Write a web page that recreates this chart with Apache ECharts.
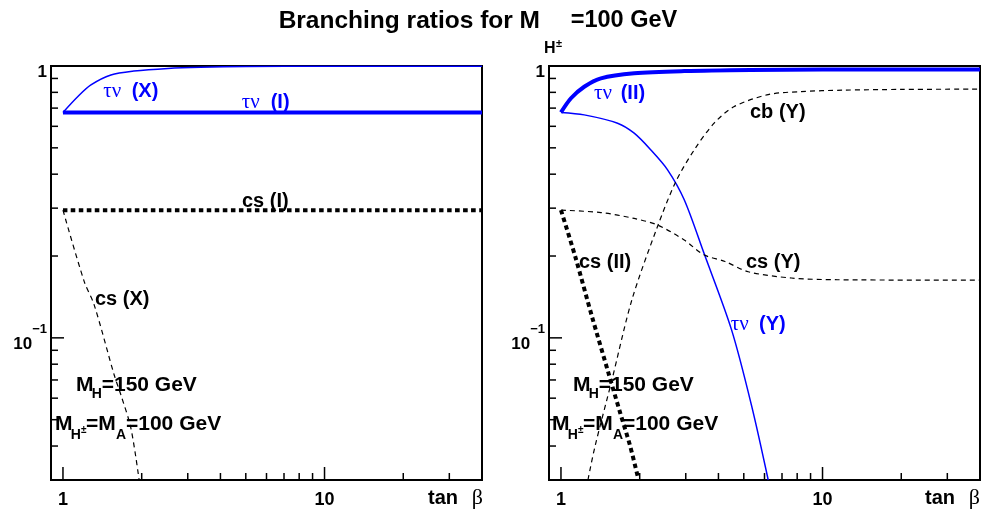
<!DOCTYPE html>
<html><head><meta charset="utf-8">
<script src="https://cdn.jsdelivr.net/npm/echarts@6/dist/echarts.min.js"></script>
<style>html,body{margin:0;padding:0;background:#fff}#c{width:992px;height:518px}</style>
</head><body><div id="c"></div>
<script>
// ---- axis ranges ----
const X_MIN = 0.9, X_MAX = 40, Y_MIN = 0.03, Y_MAX = 1;
const xTickValues = [1, 2, 3, 4, 5, 6, 7, 8, 9, 10, 20, 30];
const yTickValues = [0.03, 0.04, 0.05, 0.06, 0.07, 0.08, 0.09, 0.1, 0.2, 0.3, 0.4, 0.5, 0.6, 0.7, 0.8, 0.9];

// ---- left panel: types I and X ----
const tanbFlat = [1, 40];
const brTauI = [0.675, 0.675];
const brCsI = [0.295, 0.295];
const tanbTauX = [1, 1.138, 1.279, 1.525, 1.867, 2.52, 3.36, 5, 10, 40];
const brTauX = [0.675, 0.771, 0.852, 0.927, 0.958, 0.98, 0.99, 0.996, 0.998, 0.998];
const tanbCsX = [1, 1.206, 1.317, 1.57, 1.665, 1.818, 1.955];
const brCsX = [0.295, 0.161, 0.132, 0.073, 0.0617, 0.0466, 0.03];

// ---- right panel: types II and Y ----
const tanbTauII = [1, 1.092, 1.227, 1.421, 1.905, 2.96, 5.3, 10, 40];
const brTauII = [0.675, 0.761, 0.839, 0.901, 0.94, 0.958, 0.967, 0.97, 0.97];
const tanbTauY = [1, 1.227, 1.646, 1.905, 2.207, 2.556, 2.96, 3.52, 4.49, 5.36, 6.2];
const brTauY = [0.675, 0.661, 0.616, 0.566, 0.491, 0.415, 0.322, 0.205, 0.107, 0.0561, 0.03];
const tanbCsY = [1, 1.421, 1.905, 2.34, 2.96, 3.52, 4.24, 5.2, 7.6, 11.4, 40];
const brCsY = [0.295, 0.289, 0.275, 0.26, 0.229, 0.202, 0.191, 0.175, 0.166, 0.1636, 0.163];
const tanbCbY = [1.268, 1.348, 1.566, 1.867, 2.34, 2.75, 3.23, 3.85, 4.58, 6.2, 8.25, 12, 20, 40];
const brCbY = [0.03, 0.0397, 0.07, 0.138, 0.257, 0.376, 0.491, 0.616, 0.708, 0.785, 0.805, 0.815, 0.82, 0.822];
const tanbCsII = [1, 1.134, 1.313, 1.52, 1.684, 1.84, 1.98];
const brCsII = [0.295, 0.199, 0.12, 0.0741, 0.053, 0.0399, 0.03];

const BLUE = '#0000ff', BLACK = '#000000';
const SANS = 'Liberation Sans', SERIF = 'Liberation Serif';

function pairs(xs, ys) { return xs.map((x, i) => [x, ys[i]]); }
function lineSeries(gi, xs, ys, color, width, dash) {
  return {
    type: 'line', xAxisIndex: gi, yAxisIndex: gi, data: pairs(xs, ys),
    symbol: 'none', showSymbol: false, smooth: 0.3, silent: true, z: 3,
    lineStyle: { color: color, width: width, type: dash || 'solid', cap: 'butt', join: 'round' }
  };
}
function isDecade(v) { const l = Math.log10(v); return Math.abs(l - Math.round(l)) < 1e-6; }
function tickSeries(gi, axis) {
  const data = axis === 'x' ? xTickValues.map(v => [v, Y_MIN]) : yTickValues.map(v => [X_MIN, v]);
  return {
    type: 'custom', xAxisIndex: gi, yAxisIndex: gi, data: data, silent: true, clip: false, z: 4,
    renderItem: function (params, api) {
      const xv = api.value(0), yv = api.value(1);
      const p = api.coord([xv, yv]);
      const v = axis === 'x' ? xv : yv;
      const len = isDecade(v) ? 13 : 7;
      const shape = axis === 'x'
        ? { x1: p[0], y1: p[1], x2: p[0], y2: p[1] - len }
        : { x1: p[0], y1: p[1], x2: p[0] + len, y2: p[1] };
      return { type: 'line', shape: shape, style: { stroke: BLACK, lineWidth: 1.5 } };
    }
  };
}

const grids = [
  { left: 51, top: 66, width: 431, height: 414, show: true, borderColor: BLACK, borderWidth: 2, backgroundColor: 'transparent' },
  { left: 549, top: 66, width: 431, height: 414, show: true, borderColor: BLACK, borderWidth: 2, backgroundColor: 'transparent' }
];
const xAxes = [0, 1].map(i => ({
  type: 'log', logBase: 10, gridIndex: i, min: X_MIN, max: X_MAX,
  axisLine: { show: false }, axisTick: { show: false }, splitLine: { show: false },
  axisLabel: {
    margin: 11, color: BLACK, fontFamily: SANS, fontWeight: 'bold', fontSize: 18,
    formatter: function (v) { const l = Math.log10(v); if (Math.abs(l) < 1e-6) return '1'; if (Math.abs(l - 1) < 1e-6) return '10'; return ''; }
  }
}));
const yAxes = [0, 1].map(i => ({
  type: 'log', logBase: 10, gridIndex: i, min: Y_MIN, max: Y_MAX,
  axisLine: { show: false }, axisTick: { show: false }, splitLine: { show: false },
  axisLabel: {
    margin: 4, color: BLACK,
    formatter: function (v) { const l = Math.log10(v); if (Math.abs(l) < 1e-6) return '{a|1}'; if (Math.abs(l + 1) < 1e-6) return '{a|10}{s|\u22121}'; return ''; },
    rich: {
      a: { fontFamily: SANS, fontWeight: 'bold', fontSize: 17, color: BLACK, lineHeight: 30, verticalAlign: 'bottom' },
      s: { fontFamily: SANS, fontWeight: 'bold', fontSize: 13, color: BLACK, lineHeight: 22, verticalAlign: 'top' }
    }
  }
}));

const series = [
  lineSeries(0, tanbFlat, brTauI, BLUE, 4),
  lineSeries(0, tanbTauX, brTauX, BLUE, 1.5),
  lineSeries(0, tanbFlat, brCsI, BLACK, 4, [4.5, 3.5]),
  lineSeries(0, tanbCsX, brCsX, BLACK, 1.2, [5, 4]),
  lineSeries(1, tanbTauII, brTauII, BLUE, 4),
  lineSeries(1, tanbTauY, brTauY, BLUE, 1.5),
  lineSeries(1, tanbCsY, brCsY, BLACK, 1.2, [5, 4]),
  lineSeries(1, tanbCbY, brCbY, BLACK, 1.2, [5, 4]),
  lineSeries(1, tanbCsII, brCsII, BLACK, 4, [4.5, 3.5]),
  tickSeries(0, 'x'), tickSeries(0, 'y'), tickSeries(1, 'x'), tickSeries(1, 'y')
];

// ---- text annotations ----
function txt(x, y, t, size, opts) {
  opts = opts || {};
  return {
    type: 'text', x: x, y: y, silent: true, z: 10,
    style: {
      text: t, fontSize: size, fontFamily: opts.serif ? SERIF : SANS,
      fontWeight: opts.serif || opts.normal ? 'normal' : 'bold',
      fill: opts.color || BLACK, align: opts.align || 'left', verticalAlign: 'middle'
    }
  };
}
const g = [];
// title
g.push(txt(540, 21, 'Branching ratios for M', 24.5, { align: 'right' }));
g.push(txt(544, 49, 'H', 16));
g.push(txt(556, 44, '\u00b1', 11));
g.push(txt(570.7, 21, '=100 GeV', 23.5));
// mass annotations in both panels
[0, 497].forEach(dx => {
  g.push(txt(76 + dx, 385, 'M', 21));
  g.push(txt(91.7 + dx, 394.5, 'H', 14));
  g.push(txt(101.7 + dx, 385, '=150 GeV', 21));
  g.push(txt(55 + dx, 424.5, 'M', 21));
  g.push(txt(70.7 + dx, 435, 'H', 14));
  g.push(txt(81 + dx, 430, '\u00b1', 10));
  g.push(txt(86 + dx, 424.5, '=M', 21));
  g.push(txt(116 + dx, 435, 'A', 14));
  g.push(txt(126 + dx, 424.5, '=100 GeV', 21));
  // tan beta
  g.push(txt(925 - 497 + dx, 498.5, 'tan', 20));
  g.push(txt(980 - 497 + dx, 498.5, '\u03b2', 22, { serif: true, align: 'right' }));
});
// curve labels
function tauLabel(x1, x2, y, tag) {
  g.push(txt(x1, y, '\u03c4\u03bd', 21, { serif: true, color: BLUE }));
  g.push(txt(x2, y, tag, 20, { color: BLUE }));
}
tauLabel(103.3, 131.7, 91, '(X)');
tauLabel(241.7, 270.7, 102, '(I)');
tauLabel(594, 620.7, 93, '(II)');
tauLabel(730.7, 759, 324, '(Y)');
g.push(txt(242, 201, 'cs (I)', 20));
g.push(txt(95, 299, 'cs (X)', 20));
g.push(txt(750, 112, 'cb (Y)', 20));
g.push(txt(746, 262.5, 'cs (Y)', 20));
g.push(txt(579, 262.5, 'cs (II)', 20));

const chart = echarts.init(document.getElementById('c'), null, { renderer: 'canvas' });
chart.setOption({
  animation: false, backgroundColor: '#ffffff',
  grid: grids, xAxis: xAxes, yAxis: yAxes, series: series, graphic: g
});
</script></body></html>
